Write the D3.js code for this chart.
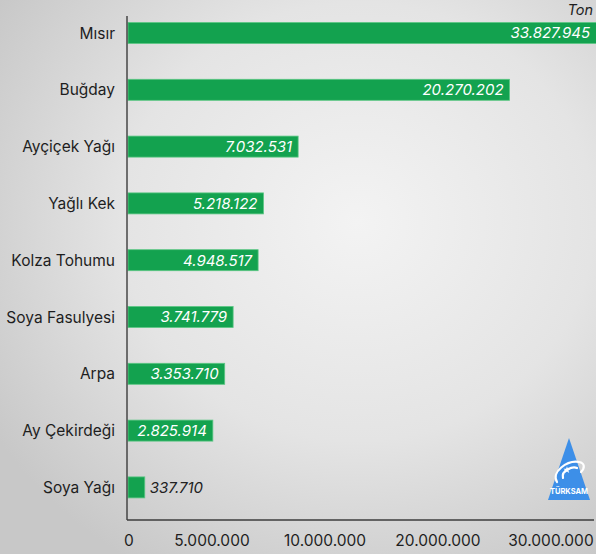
<!DOCTYPE html>
<html>
<head>
<meta charset="utf-8">
<script src="https://cdn.jsdelivr.net/npm/d3@7"></script>
<style>
  body { margin: 0; }
  svg { display: block; font-family: Inter, "Open Sans", sans-serif; }
</style>
</head>
<body>
<svg></svg>
<script>
const categories = ["Mısır", "Buğday", "Ayçiçek Yağı", "Yağlı Kek", "Kolza Tohumu",
                    "Soya Fasulyesi", "Arpa", "Ay Çekirdeği", "Soya Yağı"];
const values = [33827945, 20270202, 7032531, 5218122, 4948517, 3741779, 3353710, 2825914, 337710];
const tickValues = [0, 5000000, 10000000, 20000000, 30000000];
const unitLabel = "Ton";

const width = 596;
const height = 554;
const svg = d3.select("svg").attr("width", width).attr("height", height);

const tr = d3.formatLocale({ decimal: ",", thousands: ".", grouping: [3], currency: ["", " ₺"] });
const fmt = tr.format(",d");

// background
const defs = svg.append("defs");
const grad = defs.append("radialGradient").attr("id", "bg")
  .attr("cx", "60%").attr("cy", "40%").attr("r", "72%");
grad.append("stop").attr("offset", "0%").attr("stop-color", "#f3f3f3");
grad.append("stop").attr("offset", "55%").attr("stop-color", "#e4e4e4");
grad.append("stop").attr("offset", "100%").attr("stop-color", "#c8c8c8");
svg.append("rect").attr("width", width).attr("height", height).attr("fill", "url(#bg)");

const x0 = 127;
const axisY = 520;

// bars are drawn on a compressed (power) scale, as in the original graphic
const x = d3.scalePow().exponent(0.763)
  .domain([0, d3.max(values)])
  .range([0, 564]);

const y = d3.scaleBand()
  .domain(categories)
  .range([4.6, 515.8])
  .paddingInner(0.63)
  .paddingOuter(0.315);

// axis tick labels sit on evenly spaced points, 0 at the origin
const tickPos = d3.scalePoint().domain(tickValues.slice(1)).range([212, 551]);

const bars = svg.append("g");
bars.selectAll("rect")
  .data(values)
  .join("rect")
  .attr("x", x0 + 1)
  .attr("y", (d, i) => y(categories[i]))
  .attr("width", d => x(d))
  .attr("height", y.bandwidth())
  .attr("fill", "#13a24f")
  .attr("stroke", "#5cc784")
  .attr("stroke-width", 0.8);

// value labels
svg.append("g").selectAll("text")
  .data(values)
  .join("text")
  .attr("y", (d, i) => y(categories[i]) + y.bandwidth() / 2)
  .attr("dy", "0.36em")
  .attr("font-size", 15)
  .attr("font-style", "italic")
  .each(function(d) {
    const end = Math.min(x0 + 1 + x(d), width);
    const inside = x(d) > 60;
    d3.select(this)
      .attr("x", inside ? end - 6 : end + 5)
      .attr("text-anchor", inside ? "end" : "start")
      .attr("fill", inside ? "#ffffff" : "#222222")
      .text(fmt(d));
  });

// category labels
svg.append("g").selectAll("text")
  .data(categories)
  .join("text")
  .attr("x", 115)
  .attr("y", d => y(d) + y.bandwidth() / 2)
  .attr("dy", "0.36em")
  .attr("text-anchor", "end")
  .attr("font-size", 15.5)
  .attr("fill", "#1e1e1e")
  .text(d => d);

// axis lines
svg.append("line").attr("x1", x0).attr("x2", x0).attr("y1", 16).attr("y2", axisY)
  .attr("stroke", "#3c3c3c").attr("stroke-width", 1.4);
svg.append("line").attr("x1", x0).attr("x2", 594).attr("y1", axisY).attr("y2", axisY)
  .attr("stroke", "#3c3c3c").attr("stroke-width", 1.4);

// tick labels
svg.append("g").selectAll("text")
  .data(tickValues)
  .join("text")
  .attr("x", d => d === 0 ? x0 + 2 : tickPos(d))
  .attr("y", 540)
  .attr("dy", "0.36em")
  .attr("text-anchor", "middle")
  .attr("font-size", 15.5)
  .attr("fill", "#1e1e1e")
  .text(d => fmt(d));

// unit
svg.append("text")
  .attr("x", 593).attr("y", 10).attr("dy", "0.36em")
  .attr("text-anchor", "end")
  .attr("font-size", 14.5)
  .attr("font-style", "italic")
  .attr("fill", "#1e1e1e")
  .text(unitLabel);

// TÜRKSAM logo
const logo = svg.append("g").attr("transform", "translate(569,438)");
logo.append("path")
  .attr("d", "M0,0 L21,62 L-21,62 Z")
  .attr("fill", "#3d8fe8");
logo.append("path")
  .attr("d", "M-12,44 C-18,34 -2,22 10,24 C16,25 16,30 12,34 M-6,40 C-8,32 4,28 8,30")
  .attr("fill", "none").attr("stroke", "#ffffff").attr("stroke-width", 2.2)
  .attr("stroke-linecap", "round");
logo.append("path")
  .attr("d", d3.symbol(d3.symbolStar, 16)())
  .attr("transform", "translate(-2,32)")
  .attr("fill", "#ffffff");
logo.append("text")
  .attr("x", 0).attr("y", 56)
  .attr("text-anchor", "middle")
  .attr("font-size", 7.5)
  .attr("font-weight", 700)
  .attr("fill", "#ffffff")
  .text("TÜRKSAM");
</script>
</body>
</html>
